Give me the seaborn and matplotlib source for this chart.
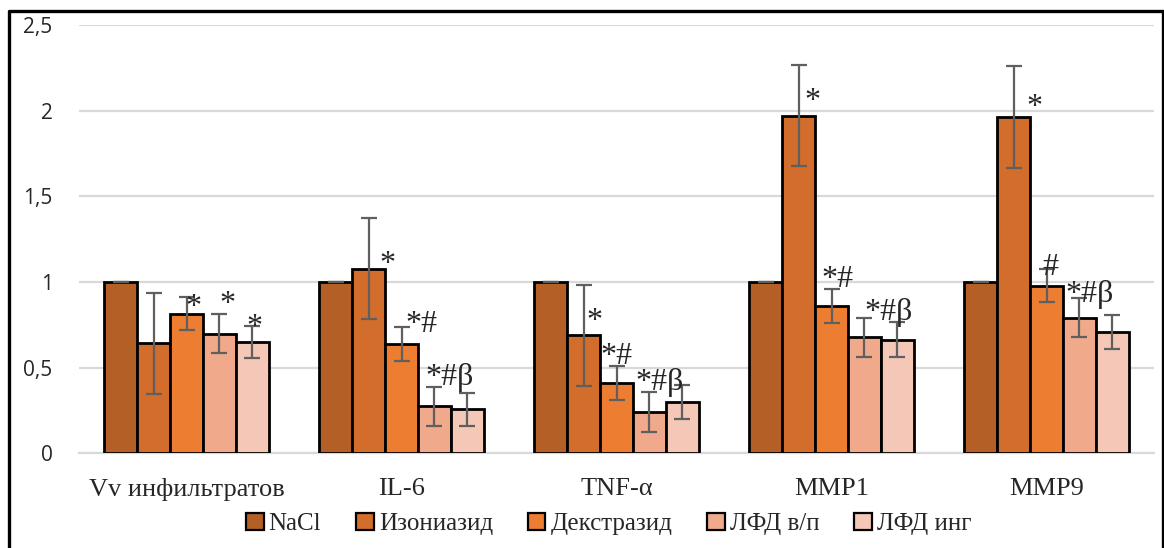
import pandas as pd
import numpy as np
import matplotlib
matplotlib.use("Agg")
import matplotlib.pyplot as plt
from matplotlib.lines import Line2D
import seaborn as sns

# dane z wykresu
kategorie = ["Vv инфильтратов", "IL-6", "TNF-α", "MMP1", "MMP9"]
grupy = ["NaCl", "Изониазид", "Декстразид", "ЛФД в/п", "ЛФД инг"]
nacl = [1.0, 1.0, 1.0, 1.0, 1.0]
izoniazid = [0.644, 1.079, 0.689, 1.971, 1.964]
dekstrazid = [0.816, 0.636, 0.409, 0.859, 0.979]
lfd_vp = [0.697, 0.274, 0.241, 0.677, 0.793]
lfd_ing = [0.650, 0.256, 0.298, 0.664, 0.709]
bledy_nacl = [0, 0, 0, 0, 0]
bledy_izo = [0.295, 0.295, 0.294, 0.295, 0.295]
bledy_dek = [0.098, 0.099, 0.099, 0.100, 0.098]
bledy_vp = [0.114, 0.115, 0.115, 0.115, 0.115]
bledy_ing = [0.094, 0.097, 0.100, 0.100, 0.097]

# oznaczenia istotnosci: (kategoria, grupa, tekst)
znaki = [(0, 2, "*"), (0, 3, "*"), (0, 4, "*"),
         (1, 1, "*"), (1, 2, "*#"), (1, 3, "*#β"),
         (2, 1, "*"), (2, 2, "*#"), (2, 3, "*#β"),
         (3, 1, "*"), (3, 2, "*#"), (3, 3, "*#β"),
         (4, 1, "*"), (4, 2, "#"), (4, 3, "*#β")]
znaki_dx = [0.03, 0.035, 0.007, 0.086, 0.093, 0.072, 0.049, 0.0, 0.049,
            0.063, 0.026, 0.11, 0.095, 0.016, 0.049]
znaki_y = [0.805, 0.823, 0.688, 1.056, 0.71, 0.399, 0.723, 0.523, 0.371,
           2.008, 0.973, 0.780, 1.978, 1.042, 0.885]

kolory = ["#B45F25", "#D26D2B", "#ED7D31", "#F0A98B", "#F4C7B6"]

wartosci = [nacl, izoniazid, dekstrazid, lfd_vp, lfd_ing]
bledy = [bledy_nacl, bledy_izo, bledy_dek, bledy_vp, bledy_ing]
wiersze = []
for g, grupa in enumerate(grupy):
    for k, kat in enumerate(kategorie):
        wiersze.append({"kat": kat, "grupa": grupa, "wartosc": wartosci[g][k], "blad": bledy[g][k]})
df = pd.DataFrame(wiersze)

sns.set_style("white")
serif = ["Liberation Serif", "DejaVu Serif"]

fig = plt.figure(figsize=(11.64, 5.48), dpi=100)
ax = fig.add_axes([79 / 1164, 1 - 453.3 / 548, (1154 - 79) / 1164, (453.3 - 25.2) / 548])

SZER = 0.767
sns.barplot(data=df, x="kat", y="wartosc", hue="grupa", order=kategorie, hue_order=grupy,
            palette=kolory, errorbar=None, width=SZER, edgecolor="black", linewidth=2,
            saturation=1, ax=ax, zorder=3)

n = len(grupy)
w = SZER / n
for g in range(n):
    xs = np.arange(len(kategorie)) + (g - (n - 1) / 2) * w
    ax.errorbar(xs, wartosci[g], yerr=bledy[g], fmt="none", ecolor="#5f5f5f",
                elinewidth=1.6, capsize=5.5, capthick=1.6, zorder=4)

for (k, g, t), dx, y in zip(znaki, znaki_dx, znaki_y):
    x = k + (g - (n - 1) / 2) * w + dx
    ax.text(x, y, t, ha="center", va="baseline", fontsize=23, family=serif, zorder=5)

ax.set_ylim(0, 2.5)
ax.set_xlim(-0.5, len(kategorie) - 0.5)
ax.set_yticks([0, 0.5, 1, 1.5, 2, 2.5])
ax.set_yticklabels(["0", "0,5", "1", "1,5", "2", "2,5"], fontsize=15, family=["Open Sans", "DejaVu Sans"])
ax.yaxis.grid(True, color="#d9d9d9", linewidth=1.6, zorder=0)
ax.set_axisbelow(True)
ax.tick_params(axis="y", length=0, pad=19)

ax.set_xticks(range(len(kategorie)))
ax.set_xticklabels(kategorie, fontsize=19, family=serif)
ax.set_xticks(np.arange(-0.5, len(kategorie)), minor=True)
ax.tick_params(axis="x", which="major", length=0, pad=18)
ax.tick_params(axis="x", which="minor", length=7, width=1.6, color="#d9d9d9", direction="out")

for s in ["left", "right", "top"]:
    ax.spines[s].set_visible(False)
ax.spines["bottom"].set_color("#d9d9d9")
ax.spines["bottom"].set_linewidth(1.6)
ax.set_xlabel("")
ax.set_ylabel("")

ax.get_legend().remove()
uchwyty = [plt.Rectangle((0, 0), 1, 1, facecolor=c, edgecolor="black", linewidth=1.6) for c in kolory]
fig.legend(uchwyty, grupy, loc="center", bbox_to_anchor=(0.523, 1 - 524 / 548), ncol=5,
           frameon=False, prop={"family": serif, "size": 18}, handlelength=0.7, handleheight=0.7,
           handletextpad=0.2, columnspacing=1.4, borderaxespad=0)

# ramka wokol wykresu
fx = lambda p: p / 1164
fy = lambda p: 1 - p / 548
fig.add_artist(Line2D([fx(8.5), fx(8.5), fx(1162.5), fx(1162.5)], [0, fy(11), fy(11), 0],
                      color="black", linewidth=2.4, transform=fig.transFigure))

fig.savefig("out.png", dpi=100)
